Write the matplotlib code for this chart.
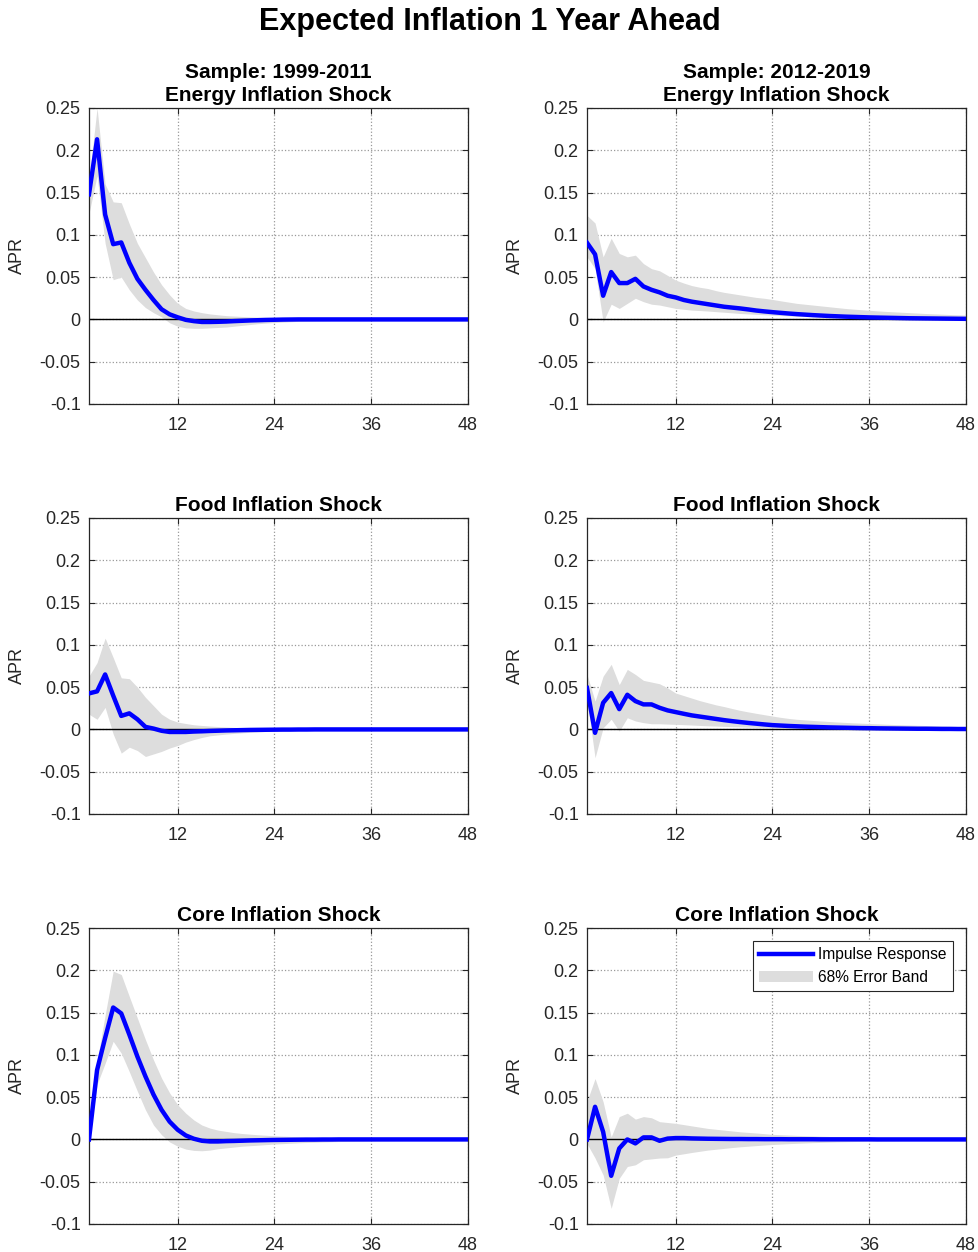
import numpy as np
import matplotlib
matplotlib.use("Agg")
import matplotlib.pyplot as plt

plt.rcParams['font.family'] = ['Liberation Sans', 'DejaVu Sans']

# horizons 1..48 (months)
horizon = list(range(1, 49))

# ---- Sample 1999-2011 ----
energy_early_irf = [0.148, 0.213, 0.124, 0.089, 0.091, 0.067, 0.048, 0.035, 0.023, 0.012,
                    0.006, 0.0025, -0.0005, -0.002, -0.003, -0.003, -0.0028, -0.0025, -0.002, -0.0016,
                    -0.0012, -0.0009, -0.0006, -0.0004, -0.0002, -0.0001, 0.0, 0.0, 0.0, 0.0,
                    0.0, 0.0, 0.0, 0.0, 0.0, 0.0, 0.0, 0.0, 0.0, 0.0,
                    0.0, 0.0, 0.0, 0.0, 0.0, 0.0, 0.0, 0.0]
energy_early_hi = [0.165, 0.25, 0.16, 0.139, 0.138, 0.113, 0.09, 0.073, 0.056, 0.041,
                   0.029, 0.019, 0.013, 0.010, 0.008, 0.0065, 0.0055, 0.0045, 0.004, 0.0035,
                   0.003, 0.0027, 0.0024, 0.0021, 0.0019, 0.0017, 0.0015, 0.0013, 0.0012, 0.0011,
                   0.001, 0.0009, 0.0008, 0.0008, 0.0007, 0.0007, 0.0006, 0.0006, 0.0005, 0.0005,
                   0.0005, 0.0004, 0.0004, 0.0004, 0.0003, 0.0003, 0.0003, 0.0003]
energy_early_lo = [0.125, 0.17, 0.09, 0.047, 0.05, 0.035, 0.023, 0.014, 0.008, 0.003,
                   -0.004, -0.008, -0.01, -0.0105, -0.0105, -0.01, -0.0095, -0.009, -0.008, -0.007,
                   -0.006, -0.005, -0.0043, -0.0037, -0.0032, -0.0027, -0.0023, -0.002, -0.0017, -0.0015,
                   -0.0013, -0.0012, -0.0011, -0.001, -0.0009, -0.0008, -0.0007, -0.0007, -0.0006, -0.0006,
                   -0.0005, -0.0005, -0.0004, -0.0004, -0.0003, -0.0003, -0.0003, -0.0002]

food_early_irf = [0.0426, 0.045, 0.065, 0.040, 0.016, 0.019, 0.012, 0.003, 0.001, -0.0016,
                  -0.003, -0.003, -0.003, -0.0025, -0.0022, -0.0018, -0.0015, -0.0012, -0.001, -0.0008,
                  -0.0006, -0.0005, -0.0004, -0.0003, -0.0002, -0.0002, -0.0001, -0.0001, 0.0, 0.0,
                  0.0, 0.0, 0.0, 0.0, 0.0, 0.0, 0.0, 0.0, 0.0, 0.0,
                  0.0, 0.0, 0.0, 0.0, 0.0, 0.0, 0.0, 0.0]
food_early_hi = [0.063, 0.079, 0.108, 0.085, 0.061, 0.060, 0.050, 0.038, 0.028, 0.018,
                 0.012, 0.0087, 0.007, 0.0055, 0.0047, 0.004, 0.0034, 0.0029, 0.0024, 0.002,
                 0.0017, 0.0014, 0.0012, 0.001, 0.0009, 0.0008, 0.0007, 0.0006, 0.0005, 0.0005,
                 0.0004, 0.0004, 0.0003, 0.0003, 0.0003, 0.0002, 0.0002, 0.0002, 0.0002, 0.0002,
                 0.0001, 0.0001, 0.0001, 0.0001, 0.0001, 0.0001, 0.0001, 0.0001]
food_early_lo = [0.018, 0.012, 0.026, -0.0055, -0.028, -0.021, -0.025, -0.032, -0.029, -0.026,
                 -0.022, -0.019, -0.015, -0.012, -0.0095, -0.0075, -0.0065, -0.0055, -0.0047, -0.004,
                 -0.0034, -0.0029, -0.0024, -0.002, -0.0017, -0.0014, -0.0012, -0.001, -0.0009, -0.0008,
                 -0.0007, -0.0006, -0.0005, -0.0005, -0.0004, -0.0004, -0.0003, -0.0003, -0.0003, -0.0002,
                 -0.0002, -0.0002, -0.0002, -0.0001, -0.0001, -0.0001, -0.0001, -0.0001]

core_early_irf = [0.0, 0.082, 0.12, 0.156, 0.149, 0.124, 0.098, 0.0745, 0.053, 0.035,
                  0.021, 0.0114, 0.0047, 0.0008, -0.0016, -0.0024, -0.0024, -0.002, -0.0018, -0.0015,
                  -0.0012, -0.001, -0.0008, -0.0006, -0.0005, -0.0004, -0.0003, -0.0002, -0.0002, -0.0001,
                  -0.0001, 0.0, 0.0, 0.0, 0.0, 0.0, 0.0, 0.0, 0.0, 0.0,
                  0.0, 0.0, 0.0, 0.0, 0.0, 0.0, 0.0, 0.0]
core_early_hi = [0.002, 0.092, 0.147, 0.199, 0.195, 0.169, 0.1435, 0.118, 0.094, 0.0725,
                 0.055, 0.041, 0.031, 0.023, 0.017, 0.0134, 0.011, 0.0095, 0.008, 0.007,
                 0.0062, 0.0055, 0.0049, 0.0043, 0.0039, 0.0035, 0.0031, 0.0028, 0.0026, 0.0024,
                 0.0022, 0.002, 0.0019, 0.0017, 0.0016, 0.0015, 0.0014, 0.0013, 0.0012, 0.0011,
                 0.001, 0.0009, 0.0008, 0.0008, 0.0007, 0.0006, 0.0006, 0.0005]
core_early_lo = [-0.002, 0.065, 0.09, 0.116, 0.102, 0.08, 0.057, 0.035, 0.017, 0.0055,
                 -0.003, -0.008, -0.0114, -0.013, -0.0134, -0.0126, -0.011, -0.010, -0.009, -0.008,
                 -0.0074, -0.0068, -0.0061, -0.0055, -0.005, -0.0045, -0.004, -0.0036, -0.0033, -0.003,
                 -0.0027, -0.0025, -0.0023, -0.0021, -0.0019, -0.0018, -0.0016, -0.0015, -0.0014, -0.0013,
                 -0.0012, -0.0011, -0.001, -0.0009, -0.0008, -0.0007, -0.0007, -0.0006]

# ---- Sample 2012-2019 ----
energy_late_irf = [0.0907, 0.077, 0.028, 0.056, 0.043, 0.043, 0.048, 0.039, 0.035, 0.032,
                   0.028, 0.026, 0.023, 0.021, 0.0195, 0.018, 0.0165, 0.015, 0.014, 0.013,
                   0.0118, 0.0105, 0.0095, 0.0086, 0.0078, 0.007, 0.0063, 0.0057, 0.0051, 0.0046,
                   0.0041, 0.0037, 0.0033, 0.003, 0.0027, 0.0024, 0.0022, 0.002, 0.0018, 0.0016,
                   0.0014, 0.0013, 0.0012, 0.0011, 0.001, 0.0009, 0.0008, 0.0007]
energy_late_hi = [0.123, 0.114, 0.074, 0.096, 0.078, 0.074, 0.076, 0.066, 0.060, 0.0575,
                  0.052, 0.0465, 0.043, 0.040, 0.038, 0.0365, 0.034, 0.032, 0.0305, 0.029,
                  0.0275, 0.026, 0.025, 0.0236, 0.022, 0.0205, 0.019, 0.018, 0.017, 0.016,
                  0.015, 0.014, 0.013, 0.0122, 0.0115, 0.0108, 0.0101, 0.0095, 0.009, 0.0085,
                  0.008, 0.0075, 0.007, 0.0066, 0.0062, 0.0058, 0.0055, 0.0052]
energy_late_lo = [0.074, 0.060, -0.003, 0.018, 0.013, 0.019, 0.025, 0.021, 0.018, 0.017,
                  0.015, 0.013, 0.012, 0.011, 0.0105, 0.0099, 0.0092, 0.0085, 0.0078, 0.007,
                  0.0065, 0.006, 0.0055, 0.005, 0.0046, 0.0042, 0.0038, 0.0035, 0.0032, 0.0029,
                  0.0026, 0.0024, 0.0022, 0.002, 0.0018, 0.0016, 0.0015, 0.0014, 0.0013, 0.0012,
                  0.0011, 0.001, 0.0009, 0.0008, 0.0007, 0.0006, 0.0005, 0.0004]

food_late_irf = [0.049, -0.004, 0.0315, 0.043, 0.024, 0.041, 0.0335, 0.0296, 0.0296, 0.0256,
                 0.0225, 0.0205, 0.0185, 0.0166, 0.0152, 0.0138, 0.0124, 0.011, 0.0098, 0.0087,
                 0.0077, 0.0068, 0.0059, 0.0051, 0.0046, 0.0041, 0.0037, 0.0033, 0.003, 0.0027,
                 0.0024, 0.0022, 0.002, 0.0018, 0.0016, 0.0015, 0.0013, 0.0012, 0.0011, 0.001,
                 0.0009, 0.0008, 0.0008, 0.0007, 0.0006, 0.0006, 0.0005, 0.0005]
food_late_hi = [0.065, 0.0335, 0.063, 0.077, 0.053, 0.071, 0.065, 0.058, 0.056, 0.054,
                0.049, 0.043, 0.040, 0.037, 0.034, 0.0315, 0.029, 0.027, 0.0247, 0.0225,
                0.0207, 0.019, 0.0174, 0.0158, 0.0143, 0.013, 0.012, 0.0113, 0.0106, 0.01,
                0.0094, 0.0088, 0.0083, 0.0078, 0.0074, 0.007, 0.0066, 0.0062, 0.0058, 0.0055,
                0.0052, 0.0049, 0.0046, 0.0043, 0.004, 0.0037, 0.0034, 0.0032]
food_late_lo = [0.035, -0.0335, 0.002, 0.012, -0.002, 0.0138, 0.010, 0.008, 0.0067, 0.0067,
                0.0063, 0.006, 0.0056, 0.0052, 0.0047, 0.0043, 0.004, 0.0036, 0.0033, 0.003,
                0.0027, 0.0025, 0.0022, 0.002, 0.0018, 0.0017, 0.0015, 0.0014, 0.0013, 0.0012,
                0.0011, 0.001, 0.0009, 0.0009, 0.0008, 0.0007, 0.0007, 0.0006, 0.0006, 0.0005,
                0.0005, 0.0004, 0.0004, 0.0003, 0.0003, 0.0003, 0.0002, 0.0002]

core_late_irf = [0.0, 0.0386, 0.009, -0.043, -0.0106, 0.0, -0.0047, 0.0024, 0.0024, -0.0016,
                 0.001, 0.0016, 0.0016, 0.0012, 0.001, 0.0008, 0.0007, 0.0006, 0.0005, 0.0005,
                 0.0004, 0.0004, 0.0003, 0.0003, 0.0003, 0.0002, 0.0002, 0.0002, 0.0002, 0.0001,
                 0.0001, 0.0001, 0.0001, 0.0001, 0.0001, 0.0001, 0.0, 0.0, 0.0, 0.0,
                 0.0, 0.0, 0.0, 0.0, 0.0, 0.0, 0.0, 0.0]
core_late_hi = [0.045, 0.072, 0.0445, 0.003, 0.027, 0.031, 0.024, 0.027, 0.0256, 0.021,
                0.020, 0.019, 0.0175, 0.016, 0.0145, 0.013, 0.012, 0.011, 0.010, 0.009,
                0.0083, 0.0076, 0.0068, 0.006, 0.0056, 0.0052, 0.0048, 0.0044, 0.0041, 0.0038,
                0.0035, 0.0032, 0.003, 0.0027, 0.0025, 0.0023, 0.0021, 0.002, 0.0018, 0.0017,
                0.0015, 0.0014, 0.0013, 0.0012, 0.0011, 0.001, 0.0009, 0.0008]
core_late_lo = [-0.005, -0.022, -0.042, -0.0815, -0.046, -0.032, -0.030, -0.024, -0.023, -0.022,
                -0.0217, -0.0185, -0.017, -0.0154, -0.014, -0.0126, -0.0116, -0.0106, -0.0096, -0.0087,
                -0.008, -0.0073, -0.0066, -0.006, -0.0055, -0.005, -0.0046, -0.0042, -0.0038, -0.0035,
                -0.0032, -0.0029, -0.0027, -0.0025, -0.0023, -0.0021, -0.0019, -0.0017, -0.0016, -0.0014,
                -0.0013, -0.0012, -0.0011, -0.001, -0.0009, -0.0008, -0.0008, -0.0007]

col_titles = ["Sample: 1999-2011", "Sample: 2012-2019"]
shock_titles = ["Energy Inflation Shock", "Food Inflation Shock", "Core Inflation Shock"]

panels = [
    [(energy_early_irf, energy_early_lo, energy_early_hi), (energy_late_irf, energy_late_lo, energy_late_hi)],
    [(food_early_irf, food_early_lo, food_early_hi), (food_late_irf, food_late_lo, food_late_hi)],
    [(core_early_irf, core_early_lo, core_early_hi), (core_late_irf, core_late_lo, core_late_hi)],
]

W, H = 979, 1252
fig = plt.figure(figsize=(W / 100, H / 100), dpi=100)

lefts = [89, 587]
tops = [108, 518, 928]
ax_w, ax_h = 379, 296

for r in range(3):
    for c in range(2):
        irf, lo, hi = panels[r][c]
        ax = fig.add_axes([lefts[c] / W, 1 - (tops[r] + ax_h) / H, ax_w / W, ax_h / H])
        band = ax.fill_between(horizon, lo, hi, color='#dddddd', linewidth=0, label='68% Error Band')
        ax.axhline(0, color='black', linewidth=1.0, zorder=2)
        line, = ax.plot(horizon, irf, color='blue', linewidth=3.2, label='Impulse Response', zorder=3)
        ax.set_xlim(1, 48)
        ax.set_ylim(-0.1, 0.25)
        ax.set_xticks([12, 24, 36, 48])
        ax.set_yticks([-0.1, -0.05, 0, 0.05, 0.1, 0.15, 0.2, 0.25])
        ax.set_yticklabels(['-0.1', '-0.05', '0', '0.05', '0.1', '0.15', '0.2', '0.25'])
        ax.grid(True, linestyle=':', color='#999999', linewidth=0.9)
        ax.set_axisbelow(True)
        ax.tick_params(direction='in', length=4, width=0.8, labelsize=13, colors='#262626',
                       top=True, right=True)
        ax.tick_params(axis='x', pad=9)
        ax.tick_params(axis='y', pad=6)
        for s in ax.spines.values():
            s.set_color('#262626')
            s.set_linewidth(0.9)
        ax.set_ylabel('APR', fontsize=13, color='#262626')
        ax.yaxis.set_label_coords(-0.165, 0.5)
        title = shock_titles[r]
        if r == 0:
            title = col_titles[c] + "\n" + title
        ax.set_title(title, fontsize=15, fontweight='bold', pad=5, linespacing=1.25)
        if r == 2 and c == 1:
            leg = ax.legend(handles=[line, band], loc='upper right', fontsize=11.2,
                            frameon=True, fancybox=False, framealpha=1, edgecolor='#262626',
                            handlelength=3.5, handletextpad=0.3, borderpad=0.4,
                            labelspacing=0.5, borderaxespad=0.85)
            leg.get_frame().set_linewidth(0.8)

fig.text(0.5, 1 - 22 / H, "Expected Inflation 1 Year Ahead", ha='center', va='center',
         fontsize=22, fontweight='bold')

fig.savefig("out.png", dpi=100)
